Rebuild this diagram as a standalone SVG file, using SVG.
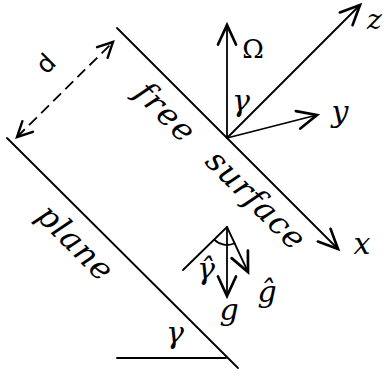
<svg xmlns="http://www.w3.org/2000/svg" width="391" height="377" viewBox="0 0 391 377">
<style>
.ln{stroke:#000;stroke-width:1.8;fill:none;stroke-linecap:round}
.dash{stroke-dasharray:11 6;stroke-linecap:butt}
.mi{font-family:"DejaVu Serif","Liberation Serif",serif;font-style:italic;font-size:32px;fill:#000}
.ml{font-family:"DejaVu Serif","Liberation Serif",serif;font-style:italic;font-size:30px;fill:#000}
.mr{font-family:"DejaVu Serif","Liberation Serif",serif;font-size:26px;fill:#000}
.ds{font-family:"DejaVu Sans","Liberation Sans",sans-serif;font-size:25px;fill:#000}
</style>
<defs>
<marker id="ah" markerUnits="userSpaceOnUse" markerWidth="30" markerHeight="30" refX="0" refY="0" viewBox="-15 -10 20 20" orient="auto" overflow="visible">
<path d="M-13,-6 L0,0 L-13,6" fill="none" stroke="#000" stroke-width="1.8" stroke-linecap="round" stroke-linejoin="miter"/>
</marker>
<marker id="ahs" markerUnits="userSpaceOnUse" markerWidth="30" markerHeight="30" refX="0" refY="0" viewBox="-15 -10 20 20" orient="auto-start-reverse" overflow="visible">
<path d="M-10,-5 L0,0 L-10,5" fill="none" stroke="#000" stroke-width="1.6" stroke-linecap="round"/>
</marker>
</defs>
<g id="connectors">
<path id="free-surface-line" class="ln" d="M117,28 L338,249" marker-end="url(#ah)"/>
<path id="plane-line" class="ln" d="M7,138 L238,368"/>
<path id="horizontal" class="ln" d="M117,358 L226,358"/>
<path id="omega-axis" class="ln" d="M227,138 L227,25" marker-end="url(#ah)"/>
<path id="z-axis" class="ln" d="M227,138 L360,5" marker-end="url(#ah)"/>
<path id="y-axis" class="ln" d="M227,138 L317,115" marker-end="url(#ah)"/>
<path id="d-arrow" class="ln dash" d="M17,137 L113,42" marker-start="url(#ahs)" marker-end="url(#ahs)"/>
<path id="normal-line" class="ln" d="M183,270 L227,227"/>
<path id="g-arrow" class="ln" d="M227,227 L227,296" marker-end="url(#ah)"/>
<path id="ghat-arrow" class="ln" d="M227,227 L248,272" marker-end="url(#ah)"/>
<path id="gammahat-arc" class="ln" d="M214.3,239.7 A18,18 0 0 0 234.6,243.3"/>
</g>
<g id="free-surface-label">
<text class="mi" transform="rotate(45)"><tspan x="161" y="-27" textLength="70" lengthAdjust="spacing">free</tspan><tspan x="259" y="-29" textLength="126" lengthAdjust="spacing">surface</tspan></text>
</g>
<g id="plane-label">
<text class="mi" transform="rotate(45)" x="178" y="129" textLength="93" lengthAdjust="spacing">plane</text>
</g>
<g id="d-label">
<text class="ds" transform="rotate(-45)" x="-12.5" y="86" text-anchor="middle">d</text>
</g>
<g id="omega-label"><text class="mr" x="253" y="58" text-anchor="middle">Ω</text></g>
<g id="z-label"><text class="ml" x="367" y="29" style="font-size:28px">z</text></g>
<g id="y-label"><text class="ml" x="340" y="122" text-anchor="middle">y</text></g>
<g id="x-label"><text class="ml" x="362" y="254" text-anchor="middle">x</text></g>
<g id="gamma-top"><text class="ml" x="241" y="111" text-anchor="middle">γ</text></g>
<g id="gamma-bottom"><text class="ml" x="175" y="343" text-anchor="middle">γ</text></g>
<g id="g-label"><text class="ml" x="229" y="320" text-anchor="middle">g</text></g>
<g id="ghat-label"><text class="ml" x="267" y="302" text-anchor="middle">ĝ</text></g>
<g id="gammahat-label"><text class="ml" x="206" y="279" text-anchor="middle">γ̂</text></g>
</svg>
